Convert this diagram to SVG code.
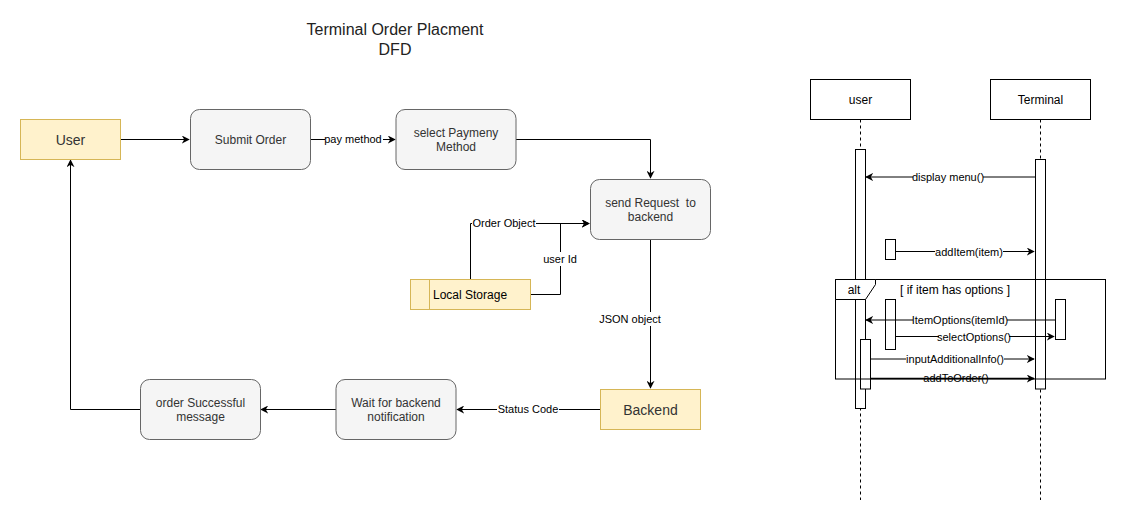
<svg xmlns="http://www.w3.org/2000/svg" width="1126" height="520" viewBox="0 0 1126 520">
<style>
text{font-family:"Liberation Sans",Arial,sans-serif;fill:#333;}
.proc{fill:#f5f5f5;stroke:#666;stroke-width:1;}
.ext{fill:#fff2cc;stroke:#d6b656;stroke-width:1;}
.t12{font-size:12px;text-anchor:middle;}
.t14{font-size:14px;text-anchor:middle;}
.lbl{font-size:11px;text-anchor:middle;fill:#000;}
.edge{fill:none;stroke:#000;stroke-width:1;}
.life{fill:none;stroke:#000;stroke-width:1;stroke-dasharray:3,3;}
.act{fill:#fff;stroke:#000;stroke-width:1;}
.lblbg{fill:#fff;}
</style>
<defs>
<marker id="arr" viewBox="0 0 10 10" refX="9" refY="5" markerWidth="8" markerHeight="8" markerUnits="userSpaceOnUse" orient="auto">
<path d="M0,0 L10,5 L0,10 L3,5 z" fill="#000"/>
</marker>
</defs>
<rect width="1126" height="520" fill="#fff"/>
<g id="title">
<text x="395" y="35" style="font-size:16px;text-anchor:middle;fill:#222">Terminal Order Placment</text>
<text x="395" y="55" style="font-size:16px;text-anchor:middle;fill:#222">DFD</text>
</g>
<g id="connectors">
<path class="edge" d="M120.5,139.5 H189" marker-end="url(#arr)"/>
<path class="edge" d="M310.5,139.5 H395" marker-end="url(#arr)"/>
<path class="edge" d="M516,139.5 H650.5 V178" marker-end="url(#arr)"/>
<path class="edge" d="M470.5,279 V223.5 H589" marker-end="url(#arr)"/>
<path class="edge" d="M530,294.5 H560.5 V223.5 H589" marker-end="url(#arr)"/>
<path class="edge" d="M650.5,239 V388" marker-end="url(#arr)"/>
<path class="edge" d="M600,409.5 H457" marker-end="url(#arr)"/>
<path class="edge" d="M336,409.5 H261" marker-end="url(#arr)"/>
<path class="edge" d="M140,409.5 H70.5 V160" marker-end="url(#arr)"/>
<rect class="lblbg" x="325" y="132" width="58" height="14"/>
<text class="lbl" x="353" y="143">pay method</text>
<rect class="lblbg" x="472" y="216" width="64" height="14"/>
<text class="lbl" x="504" y="227">Order Object</text>
<rect class="lblbg" x="542" y="252" width="38" height="14"/>
<text class="lbl" x="560" y="263">user Id</text>
<rect class="lblbg" x="598" y="312" width="64" height="14"/>
<text class="lbl" x="630" y="323">JSON object</text>
<rect class="lblbg" x="497" y="402" width="62" height="14"/>
<text class="lbl" x="528" y="413">Status Code</text>
</g>
<g id="user">
<rect class="ext" x="20.5" y="119.5" width="100" height="40"/>
<text class="t14" x="70.5" y="144.5">User</text>
</g>
<g id="submit-order">
<rect class="proc" x="190.5" y="109.5" width="120" height="60" rx="9"/>
<text class="t12" x="250.5" y="143.5">Submit Order</text>
</g>
<g id="select-payment">
<rect class="proc" x="396" y="109.5" width="120" height="60" rx="9"/>
<text class="t12" x="456" y="137">select Paymeny</text>
<text class="t12" x="456" y="151">Method</text>
</g>
<g id="send-request">
<rect class="proc" x="590.5" y="179.5" width="120" height="60" rx="9"/>
<text class="t12" x="650.5" y="207" style="white-space:pre">send Request  to</text>
<text class="t12" x="650.5" y="221">backend</text>
</g>
<g id="local-storage">
<rect class="ext" x="410.5" y="279.5" width="120" height="30"/>
<line x1="429.5" y1="279.5" x2="429.5" y2="309.5" stroke="#d6b656"/>
<text x="433" y="299" style="font-size:12px;fill:#000">Local Storage</text>
</g>
<g id="backend">
<rect class="ext" x="600.5" y="389.5" width="100" height="40"/>
<text class="t14" x="650.5" y="414.5">Backend</text>
</g>
<g id="wait-notification">
<rect class="proc" x="336" y="379.5" width="120" height="60" rx="9"/>
<text class="t12" x="396" y="407">Wait for backend</text>
<text class="t12" x="396" y="421">notification</text>
</g>
<g id="order-success">
<rect class="proc" x="140.5" y="379.5" width="120" height="60" rx="9"/>
<text class="t12" x="200.5" y="407">order Successful</text>
<text class="t12" x="200.5" y="421">message</text>
</g>
<g id="seq-user">
<rect x="810.5" y="79.5" width="100" height="40" fill="#fff" stroke="#000"/>
<text class="t12" x="860.5" y="103.5" style="fill:#000">user</text>
<line class="life" x1="860.5" y1="119.5" x2="860.5" y2="500"/>
</g>
<g id="seq-terminal">
<rect x="990.5" y="79.5" width="100" height="40" fill="#fff" stroke="#000"/>
<text class="t12" x="1040.5" y="103.5" style="fill:#000">Terminal</text>
<line class="life" x1="1040.5" y1="119.5" x2="1040.5" y2="500"/>
</g>
<g id="activations">
<rect class="act" x="855.5" y="149.5" width="10" height="259"/>
<rect class="act" x="1035.5" y="159.5" width="10" height="229.5"/>
<rect class="act" x="885.5" y="239.5" width="10" height="20"/>
<rect class="act" x="885.5" y="299.5" width="10" height="50"/>
<rect class="act" x="1055.5" y="299.5" width="10" height="40"/>
<rect class="act" x="860.5" y="339.5" width="10" height="49.5"/>
</g>
<g id="alt-frame">
<rect x="835.5" y="279.5" width="270" height="99.5" fill="none" stroke="#000"/>
<path d="M835.5,279.5 H875.5 V284.5 L865.5,299.5 H835.5 Z" fill="#fff" stroke="#000"/>
<text x="854" y="293.5" style="font-size:12px;text-anchor:middle;fill:#000">alt</text>
<text x="955" y="293.5" style="font-size:12px;text-anchor:middle;fill:#000">[ if item has options ]</text>
</g>
<g id="messages">
<path class="edge" d="M1035,177 H866" marker-end="url(#arr)"/>
<path class="edge" d="M896,251.5 H1034" marker-end="url(#arr)"/>
<path class="edge" d="M1055,320 H866" marker-end="url(#arr)"/>
<path class="edge" d="M896,336.5 H1054" marker-end="url(#arr)"/>
<path class="edge" d="M871,359 H1034" marker-end="url(#arr)"/>
<path class="edge" d="M871,378.5 H1034" marker-end="url(#arr)" style="stroke-width:1.5"/>
<rect class="lblbg" x="913" y="170" width="70" height="14"/>
<text class="lbl" x="948" y="181">display menu()</text>
<rect class="lblbg" x="935" y="244.5" width="68" height="14"/>
<text class="lbl" x="969" y="255.5">addItem(item)</text>
<rect class="lblbg" x="913" y="313" width="94" height="14"/>
<text class="lbl" x="960" y="324">ItemOptions(itemId)</text>
<rect class="lblbg" x="939" y="329.5" width="70" height="14"/>
<text class="lbl" x="974" y="340.5">selectOptions()</text>
<rect class="lblbg" x="906" y="352" width="98" height="14"/>
<text class="lbl" x="955" y="363">inputAdditionalInfo()</text>
<text class="lbl" x="956" y="382">addToOrder()</text>
</g>
</svg>
